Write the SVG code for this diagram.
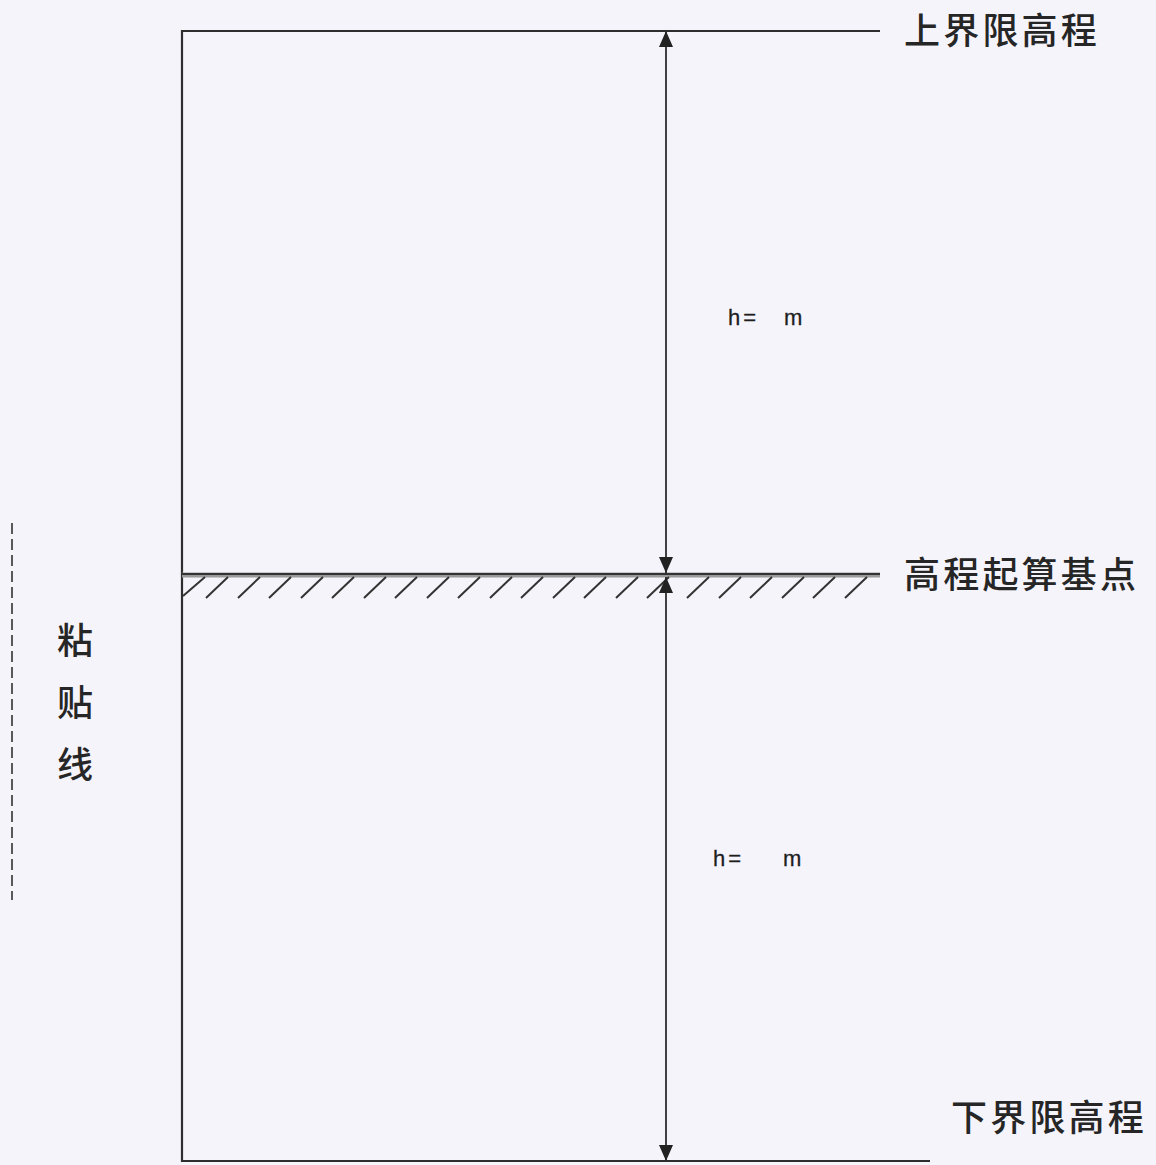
<svg xmlns="http://www.w3.org/2000/svg" width="1156" height="1165" viewBox="0 0 1156 1165">
<style>
.ln{stroke:#2e2e2e;stroke-width:2.2;fill:none}
.cjk{font-family:"Noto Sans CJK SC","Noto Sans CJK JP",sans-serif;font-size:36px;font-weight:500;fill:#262626;letter-spacing:3.2px}
.v{letter-spacing:0}
.h{font-family:"Liberation Sans",Arial,sans-serif;font-size:22px;fill:#1e1e1e;letter-spacing:3px;stroke:#1e1e1e;stroke-width:0.3}
.hatch{stroke:#333;stroke-width:2;fill:none}
</style>
<defs>
<marker id="arr" viewBox="0 0 16 14" refX="16" refY="7" markerWidth="16" markerHeight="14" markerUnits="userSpaceOnUse" orient="auto-start-reverse">
<path d="M0,0 L16,7 L0,14 Z" fill="#222"/>
</marker>
</defs>
<rect width="1156" height="1165" fill="#f5f4fb"/>
<g id="frame">
<line class="ln" x1="182" y1="31" x2="880" y2="31"/>
<line class="ln" x1="182" y1="30" x2="182" y2="1162"/>
<line class="ln" x1="182" y1="1161" x2="930" y2="1161"/>
</g>
<g id="baseline">
<line x1="182" y1="575" x2="880" y2="575" stroke="#9a9a9a" stroke-width="5"/>
<line x1="182" y1="574" x2="880" y2="574" stroke="#333" stroke-width="2"/>
<path class="hatch" d="M183,596 L205,577 M206,598 L228,577 M238,598 L260,577 M269,598 L291,577 M301,598 L323,577 M332,598 L354,577 M364,598 L386,577 M395,598 L417,577 M427,598 L449,577 M458,598 L480,577 M490,598 L512,577 M521,598 L543,577 M553,598 L575,577 M584,598 L606,577 M616,598 L638,577 M647,598 L669,577 M687,598 L709,577 M719,598 L741,577 M750,598 L772,577 M782,598 L804,577 M813,598 L835,577 M845,598 L867,577"/>
</g>
<g id="connectors">
<line class="ln" x1="666" y1="573" x2="666" y2="31" marker-start="url(#arr)" marker-end="url(#arr)" style="stroke-width:1.8"/>
<line class="ln" x1="666" y1="577" x2="666" y2="1161" marker-start="url(#arr)" marker-end="url(#arr)" style="stroke-width:1.8"/>
</g>
<g id="label-upper">
<text class="cjk" x="904" y="44">上界限高程</text>
</g>
<g id="label-base">
<text class="cjk" x="904" y="588">高程起算基点</text>
</g>
<g id="label-lower">
<text class="cjk" x="951" y="1131">下界限高程</text>
</g>
<g id="h-upper">
<text class="h" x="728" y="325">h=</text>
<text class="h" x="784" y="325">m</text>
</g>
<g id="h-lower">
<text class="h" x="713" y="866">h=</text>
<text class="h" x="783" y="866">m</text>
</g>
<g id="paste-line">
<line x1="12" y1="523" x2="12" y2="900" stroke="#333" stroke-width="1.6" stroke-dasharray="11,5"/>
<text class="cjk v" x="57" y="654">粘</text>
<text class="cjk v" x="57" y="716">贴</text>
<text class="cjk v" x="57" y="778">线</text>
</g>
</svg>
